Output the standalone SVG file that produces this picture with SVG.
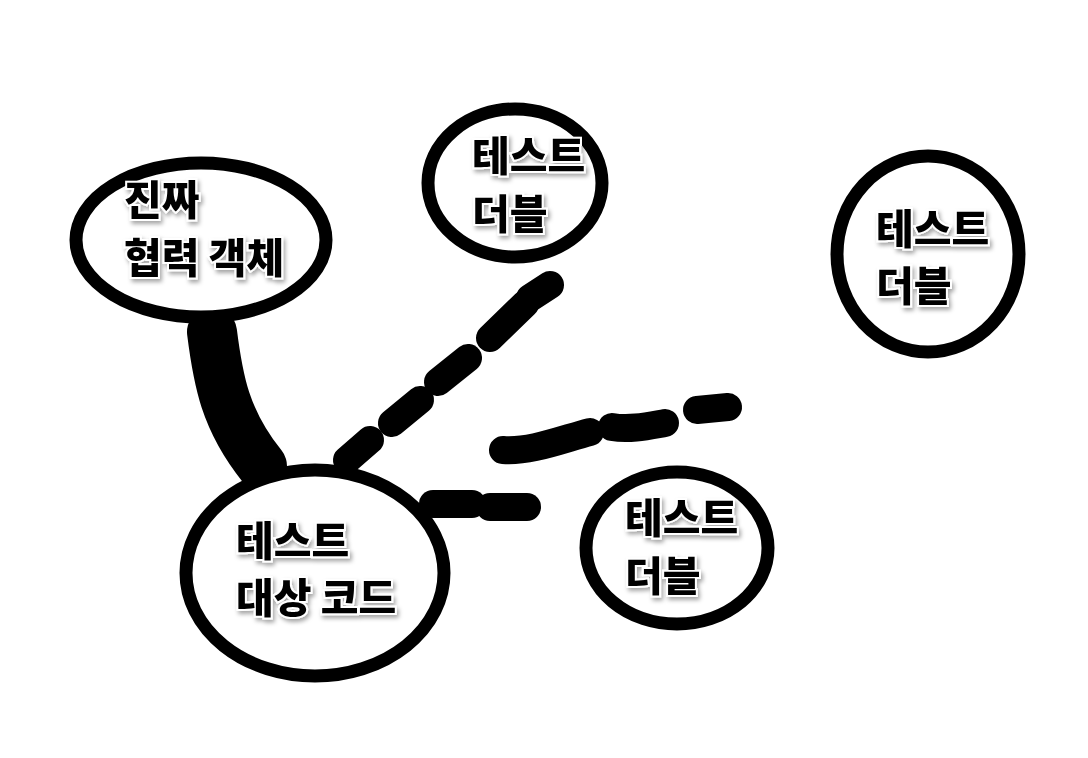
<svg xmlns="http://www.w3.org/2000/svg" width="1088" height="758" viewBox="0 0 1088 758">
<style>
.node{fill:#fff;stroke:#000;stroke-width:13}
.lbl{font-family:"Noto Sans CJK KR","Noto Sans",sans-serif;font-weight:900;font-size:41px;fill:#000;stroke:#fff;stroke-width:4;paint-order:stroke;filter:url(#sh)}
.dash{fill:none;stroke:#000;stroke-width:28;stroke-linecap:round}
</style>
<defs>
<filter id="sh" x="-20%" y="-30%" width="140%" height="160%">
<feDropShadow dx="2" dy="3" stdDeviation="2" flood-color="#000" flood-opacity="0.35"/>
</filter>
</defs>
<rect width="1088" height="758" fill="#fff"/>
<g id="connectors">
<path d="M212,332 C218,380 225,420 262,466" fill="none" stroke="#000" stroke-width="50" stroke-linecap="round"/>
<path class="dash" d="M347,460 L370,440"/>
<path class="dash" d="M392,423 L420,400"/>
<path class="dash" d="M438,382 L468,358"/>
<path class="dash" d="M490,338 L525,304"/>
<path class="dash" d="M530,298 L550,285"/>
<path class="dash" d="M503,450 C530,452 560,440 590,432"/>
<path class="dash" d="M612,427 C630,430 648,426 665,423"/>
<path class="dash" d="M697,410 L728,407"/>
<path class="dash" d="M433,504 L472,504"/>
<path class="dash" d="M490,507 L527,507"/>
</g>
<g id="real">
<ellipse class="node" cx="201" cy="240" rx="125" ry="77"/>
<text class="lbl" x="124" y="215">진짜</text>
<text class="lbl" x="124" y="273">협력 객체</text>
</g>
<g id="double1">
<ellipse class="node" cx="515" cy="183" rx="87" ry="74"/>
<text class="lbl" x="472" y="171">테스트</text>
<text class="lbl" x="472" y="229">더블</text>
</g>
<g id="double2">
<ellipse class="node" cx="928" cy="254" rx="91" ry="98"/>
<text class="lbl" x="876" y="244">테스트</text>
<text class="lbl" x="876" y="301">더블</text>
</g>
<g id="double3">
<ellipse class="node" cx="677" cy="548" rx="91" ry="76"/>
<text class="lbl" x="625" y="533">테스트</text>
<text class="lbl" x="625" y="591">더블</text>
</g>
<g id="sut">
<ellipse class="node" cx="315" cy="573" rx="129" ry="103"/>
<text class="lbl" x="236" y="556">테스트</text>
<text class="lbl" x="236" y="613">대상 코드</text>
</g>
</svg>
